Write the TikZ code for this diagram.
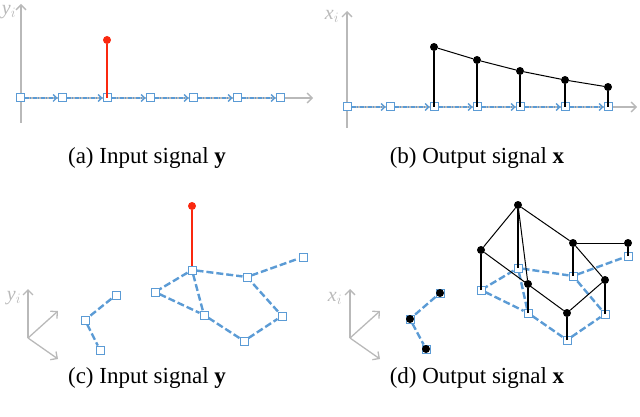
\documentclass[tikz,border=0pt]{standalone}
\usepackage{fontspec}
\setmainfont{Liberation Serif}
\usetikzlibrary{arrows.meta}
\definecolor{bl}{RGB}{91,155,213}
\definecolor{rd}{RGB}{250,40,15}
\definecolor{ax}{RGB}{185,185,185}
\tikzset{
 sq/.style={draw=bl,fill=white,line width=1pt,minimum size=8pt,inner sep=0pt,rectangle},
 dot/.style={circle,fill=black,minimum size=8pt,inner sep=0pt},
 rdot/.style={circle,fill=rd,minimum size=8pt,inner sep=0pt},
 axis/.style={draw=ax,line width=1.3pt,-{Straight Barb[length=5pt,width=10pt]}},
 chain/.style={draw=bl,line width=1.3pt,dash pattern=on 4pt off 1.5pt on 1pt off 1.5pt,-{Straight Barb[length=3.5pt,width=7pt]}},
 gedge/.style={draw=bl,line width=2.4pt,dash pattern=on 7pt off 3pt},
 stem/.style={draw=black,line width=2.6pt},
 redstem/.style={draw=rd,line width=2.8pt},
 bedge/.style={draw=black,line width=1pt},
 lab/.style={text=ax,font=\fontsize{20}{20}\selectfont\itshape},
 captext/.style={font=\fontsize{23}{26}\selectfont}
}
\begin{document}
\begin{tikzpicture}[x=1pt,y=-1pt]
\useasboundingbox (0,0) rectangle (640,417);
% ---------- (a)
\coordinate (ay0) at (21,123); \coordinate (ay1) at (21,4);
\coordinate (ax0) at (17,98); \coordinate (ax1) at (313,98);
\draw[axis] (ay0) -- (ay1);
\draw[axis] (ax0) -- (ax1);
\node[lab] (ayl) at (9,12) {y$_i$};
\foreach \i/\x in {1/20,2/62,3/107,4/150,5/193,6/237,7/280}
  \node[sq] (a\i) at (\x,98) {};
\foreach \i/\j in {1/2,2/3,3/4,4/5,5/6,6/7}
  \draw[chain] (a\i) -- (a\j);
\node[rdot] (ar) at (107,40) {};
\draw[redstem] (a3.center) -- (ar);
\node[captext] (capa) at (147,158) {(a) Input signal \textbf{y}};
% ---------- (b)
\coordinate (by0) at (347,128); \coordinate (by1) at (347,11);
\coordinate (bx0) at (343,107); \coordinate (bx1) at (637,107);
\draw[axis] (by0) -- (by1);
\draw[axis] (bx0) -- (bx1);
\node[lab] (byl) at (332,16) {x$_i$};
\foreach \i/\x in {1/347,2/390,3/434,4/477,5/520,6/565,7/608}
  \node[sq] (b\i) at (\x,107) {};
\foreach \i/\j in {1/2,2/3,3/4,4/5,5/6,6/7}
  \draw[chain] (b\i) -- (b\j);
\foreach \i/\y in {3/47,4/60,5/71,6/80,7/87}
  {\node[dot] (bd\i) at (b\i |- 0,\y) {};
   \draw[stem] (b\i.center) -- (bd\i);}
\draw[bedge] (bd3) -- (bd4) -- (bd5) -- (bd6) -- (bd7);
\node[captext] (capb) at (477,158) {(b) Output signal \textbf{x}};
% ---------- (c)
\coordinate (co) at (28,338);
\coordinate (cu) at (28,289); \coordinate (cr) at (58,311); \coordinate (cd) at (58,359);
\draw[axis] (co) -- (cu); \draw[axis] (co) -- (cr); \draw[axis] (co) -- (cd);
\node[lab] (cyl) at (14,298) {y$_i$};
\node[sq] (c1) at (116,295) {};
\node[sq] (c2) at (85,320) {};
\node[sq] (c3) at (100,350) {};
\draw[gedge] (c1) -- (c2) -- (c3);
\node[sq] (cA) at (192,270) {};
\node[sq] (cB) at (155,292) {};
\node[sq] (cC) at (204,315) {};
\node[sq] (cD) at (247,277) {};
\node[sq] (cE) at (303,257) {};
\node[sq] (cF) at (282,316) {};
\node[sq] (cG) at (244,341) {};
\foreach \u/\v in {A/B,A/D,A/C,B/C,C/G,G/F,F/D,D/E}
  \draw[gedge] (c\u) -- (c\v);
\node[rdot] (cr1) at (192,206) {};
\draw[redstem] (cA.center) -- (cr1);
\node[sq] at (cA) {};
\node[captext] (capc) at (147,378) {(c) Input signal \textbf{y}};
% ---------- (d)
\coordinate (do) at (350,338);
\coordinate (du) at (350,289); \coordinate (dr) at (380,311); \coordinate (dd) at (380,359);
\draw[axis] (do) -- (du); \draw[axis] (do) -- (dr); \draw[axis] (do) -- (dd);
\node[lab] (dxl) at (335,298) {x$_i$};
\node[sq] (d1) at (440,293) {};
\node[sq] (d2) at (410,319) {};
\node[sq] (d3) at (426,349) {};
\draw[gedge] (d1) -- (d2) -- (d3);
\foreach \i in {1,2,3} \node[dot] (dd\i) at (d\i) {};
\node[sq] (dA) at (518,268) {};
\node[sq] (dB) at (481,290) {};
\node[sq] (dC) at (528,313) {};
\node[sq] (dD) at (573,276) {};
\node[sq] (dE) at (628,256) {};
\node[sq] (dF) at (605,314) {};
\node[sq] (dG) at (567,340) {};
\foreach \u/\v in {A/B,A/D,A/C,B/C,C/G,G/F,F/D,D/E}
  \draw[gedge] (d\u) -- (d\v);
\foreach \k/\y in {A/205,B/250,C/284,D/243,E/243,F/280,G/313}
  {\node[dot] (p\k) at (d\k |- 0,\y) {};
   \draw[stem] (d\k.center) -- (p\k);}
\foreach \u/\v in {A/B,A/D,A/C,B/G,D/E,D/F,F/G}
  \draw[bedge] (p\u) -- (p\v);
\node[captext] (capd) at (477,378) {(d) Output signal \textbf{x}};
\end{tikzpicture}
\end{document}
